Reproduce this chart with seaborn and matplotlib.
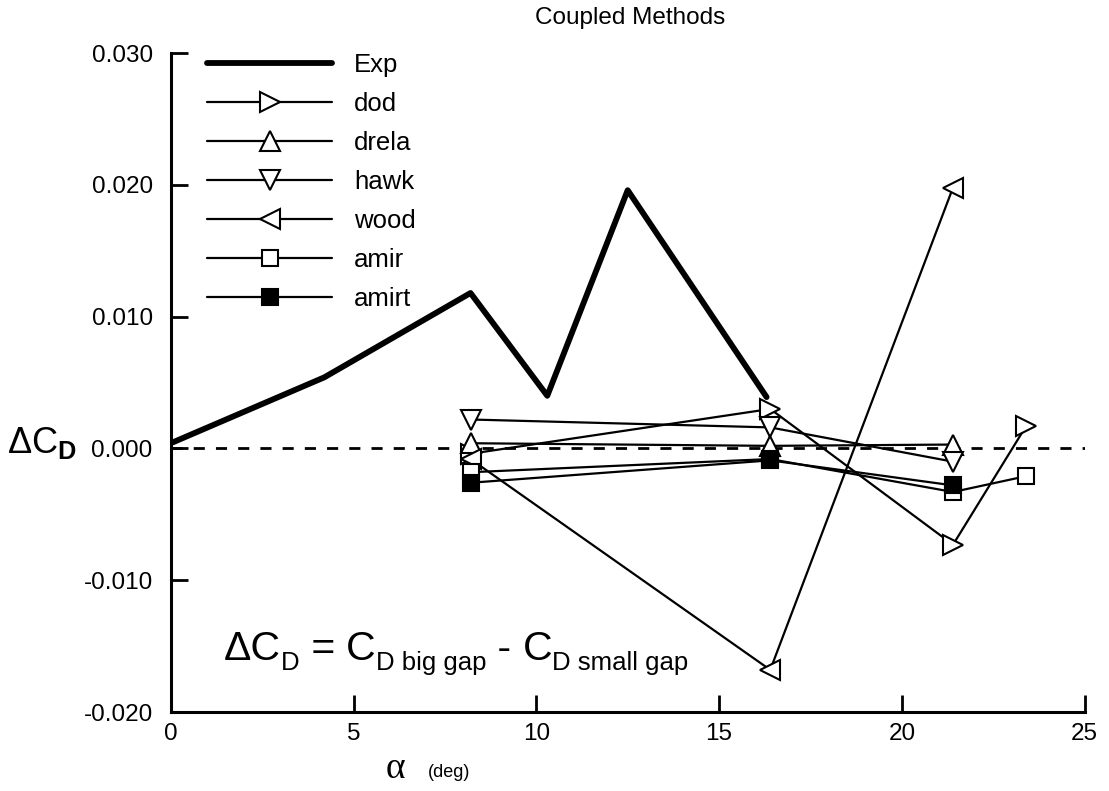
import matplotlib
matplotlib.use("Agg")
import matplotlib.pyplot as plt
import seaborn as sns
import pandas as pd

# Experimental drag increment
alpha_exp = [0.0, 4.2, 8.2, 10.3, 12.5, 16.3]
dcd_exp = [0.0004, 0.0054, 0.0118, 0.0040, 0.0196, 0.0039]

# Coupled-method predictions
alpha_dod = [8.2, 16.4, 21.4, 23.4]
dcd_dod = [-0.0004, 0.0030, -0.0073, 0.0017]

alpha_drela = [8.2, 16.4, 21.4]
dcd_drela = [0.0004, 0.0002, 0.0003]

alpha_hawk = [8.2, 16.4, 21.4]
dcd_hawk = [0.0022, 0.0016, -0.0010]

alpha_wood = [8.2, 16.4, 21.4]
dcd_wood = [-0.0008, -0.0168, 0.0198]

alpha_amir = [8.2, 16.4, 21.4, 23.4]
dcd_amir = [-0.0018, -0.0008, -0.0033, -0.0021]

alpha_amirt = [8.2, 16.4, 21.4]
dcd_amirt = [-0.0026, -0.0009, -0.0028]

x_ticks = [0, 5, 10, 15, 20, 25]
y_ticks = [-0.020, -0.010, 0.000, 0.010, 0.020, 0.030]

sns.set_theme(style="ticks")
plt.rcParams["font.family"] = ["Liberation Sans", "DejaVu Sans"]
plt.rcParams["mathtext.fontset"] = "custom"
plt.rcParams["mathtext.rm"] = "Liberation Sans"
plt.rcParams["mathtext.it"] = "Liberation Sans:italic"
plt.rcParams["mathtext.bf"] = "Liberation Sans:bold"
for key in ("text.color", "axes.labelcolor", "xtick.color", "ytick.color",
            "axes.edgecolor"):
    plt.rcParams[key] = "black"

W, H = 1109, 791
fig = plt.figure(figsize=(W / 100, H / 100), dpi=100)
ax = fig.add_axes([0.154, 0.0998, 0.824, 0.833])

# zero reference
ax.axhline(0.0, color="black", lw=2.0, ls=(0, (4, 4)), zorder=1)

sns.lineplot(x=alpha_exp, y=dcd_exp, ax=ax, color="black", lw=4.2,
             estimator=None, sort=False, label="Exp", zorder=3)

series = [
    ("dod", alpha_dod, dcd_dod, ">", "white", 14),
    ("drela", alpha_drela, dcd_drela, "^", "white", 14),
    ("hawk", alpha_hawk, dcd_hawk, "v", "white", 14),
    ("wood", alpha_wood, dcd_wood, "<", "white", 14),
    ("amir", alpha_amir, dcd_amir, "s", "white", 12),
    ("amirt", alpha_amirt, dcd_amirt, "s", "black", 12),
]
for name, xs, ys, mk, fc, ms in series:
    df = pd.DataFrame({"alpha": xs, "dcd": ys})
    sns.lineplot(data=df, x="alpha", y="dcd", ax=ax, color="black", lw=1.6,
                 estimator=None, sort=False, marker=mk, markersize=ms,
                 markerfacecolor=fc, markeredgecolor="black",
                 markeredgewidth=1.5, label=name, zorder=4)

ax.set_xlim(0, 25)
ax.set_ylim(-0.020, 0.030)
ax.set_xticks(x_ticks)
ax.set_xticklabels([str(v) for v in x_ticks])
ax.set_yticks(y_ticks)
ax.set_yticklabels([f"{v:.3f}" for v in y_ticks])
ax.tick_params(axis="both", direction="in", length=12, width=2,
               labelsize=17.5)
ax.tick_params(axis="y", pad=13)
ax.tick_params(axis="x", pad=8)
sns.despine(ax=ax)
for side in ("left", "bottom"):
    ax.spines[side].set_linewidth(2.2)
ax.set_xlabel("")
ax.set_ylabel("")

ax.legend(loc="upper left", bbox_to_anchor=(0.040, 1.0),
          frameon=False, fontsize=18.5, handlelength=4.86,
          handletextpad=0.86, labelspacing=0.58, borderpad=0,
          borderaxespad=0, numpoints=1)

fig.text(0.568, 0.977, "Coupled Methods", ha="center", va="center",
         fontsize=17.5)
fig.text(0.038, 0.440, r"$\mathrm{\Delta C}_{\mathbf{D}}$", ha="center",
         va="center", fontsize=26)
fig.text(0.357, 0.028, "α", ha="center", va="center", fontsize=27,
         family=["Liberation Serif", "DejaVu Serif"])
fig.text(0.405, 0.024, "(deg)", ha="center", va="center", fontsize=13)

# Definition of the drag increment, laid out piece by piece
pieces = [("ΔC", 29.5, 0), ("D", 18.5, 10), (" = ", 29.5, 0), ("C", 29.5, 0),
          ("D big gap", 18.5, 10), (" - ", 29.5, 0), ("C", 29.5, 0),
          ("D small gap", 18.5, 10)]
renderer = fig.canvas.get_renderer()
x_px, base_px = 224.0, 660.0
for txt, size, drop in pieces:
    t = fig.text(x_px / W, 1 - (base_px + drop) / H, txt, fontsize=size,
                 ha="left", va="baseline")
    x_px = t.get_window_extent(renderer).x1

fig.savefig("out.png", dpi=100)
